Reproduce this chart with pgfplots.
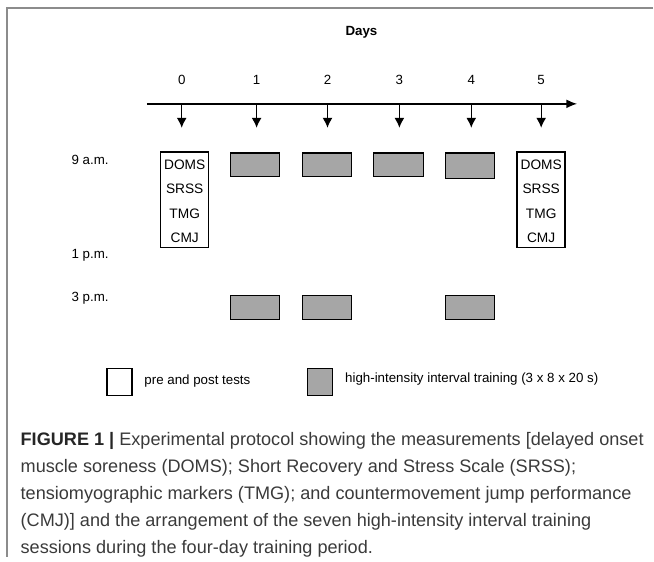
\documentclass[border=0pt]{standalone}
\usepackage{fontspec}
\setmainfont{Liberation Sans}
\usepackage{pgfplots}
\pgfplotsset{compat=1.18}
\usetikzlibrary{arrows.meta}
\definecolor{hiit}{HTML}{A6A6A6}
\definecolor{framegray}{HTML}{8C8C8C}
\definecolor{captext}{HTML}{3A3A3A}
\begin{document}
\begin{tikzpicture}
\begin{axis}[
  scale only axis, width=490.5pt, height=418.5pt,
  xmin=0, xmax=654, ymin=0, ymax=558, y dir=reverse,
  axis lines=none, ticks=none, clip=false,
]
% invisible extent
\addplot[draw=none] coordinates {(0,0) (654,558)};
% frame
\addplot[framegray, line width=1.5pt] coordinates {(654,8) (7,8) (7,558)};
% title
\node[font=\bfseries\fontsize{10}{12}\selectfont] at (axis cs:362,32) {Days};
% day numbers
\node[font=\fontsize{10}{12}\selectfont] at (axis cs:182,80) {0};
\node[font=\fontsize{10}{12}\selectfont] at (axis cs:257,80) {1};
\node[font=\fontsize{10}{12}\selectfont] at (axis cs:328,80) {2};
\node[font=\fontsize{10}{12}\selectfont] at (axis cs:400,80) {3};
\node[font=\fontsize{10}{12}\selectfont] at (axis cs:472,80) {4};
\node[font=\fontsize{10}{12}\selectfont] at (axis cs:542,80) {5};
% timeline
\addplot[black, line width=1pt, -{Latex[length=8pt,width=6.5pt]}] coordinates {(147,104) (578,104)};
% down arrows
\pgfplotsinvokeforeach{182,257,328,400,472,542}{
  \addplot[black, line width=1pt, -{Latex[length=7.5pt,width=7.5pt]}] coordinates {(#1,104) (#1,128)};
}
% time labels
\node[anchor=west, font=\fontsize{10}{12}\selectfont] at (axis cs:67,160) {9 a.m.};
\node[anchor=west, font=\fontsize{10}{12}\selectfont] at (axis cs:67,256) {1 p.m.};
\node[anchor=west, font=\fontsize{10}{12}\selectfont] at (axis cs:67,299) {3 p.m.};
% test boxes (day 0 and day 5)
\addplot[draw=black, fill=white, line width=1.1pt] coordinates {(161,152) (209,152) (209,248) (161,248)} -- cycle;
\addplot[draw=black, fill=white, line width=1.1pt] coordinates {(518,152) (566,152) (566,248) (518,248)} -- cycle;
\pgfplotsinvokeforeach{185,542}{
  \node[font=\fontsize{10.3}{12}\selectfont] at (axis cs:#1,165) {DOMS};
  \node[font=\fontsize{10.3}{12}\selectfont] at (axis cs:#1,189) {SRSS};
  \node[font=\fontsize{10.3}{12}\selectfont] at (axis cs:#1,214) {TMG};
  \node[font=\fontsize{10.3}{12}\selectfont] at (axis cs:#1,238) {CMJ};
}
% HIIT sessions 9 a.m. (days 1-4)
\addplot[draw=black, fill=hiit, line width=1.1pt] coordinates {(231,153) (280,153) (280,177) (231,177)} -- cycle;
\addplot[draw=black, fill=hiit, line width=1.1pt] coordinates {(303,153) (352,153) (352,177) (303,177)} -- cycle;
\addplot[draw=black, fill=hiit, line width=1.1pt] coordinates {(374,153) (424,153) (424,177) (374,177)} -- cycle;
\addplot[draw=black, fill=hiit, line width=1.1pt] coordinates {(446,153) (495,153) (495,179) (446,179)} -- cycle;
% HIIT sessions 3 p.m. (days 1, 2, 4)
\addplot[draw=black, fill=hiit, line width=1.1pt] coordinates {(231,296) (280,296) (280,320) (231,320)} -- cycle;
\addplot[draw=black, fill=hiit, line width=1.1pt] coordinates {(303,296) (352,296) (352,320) (303,320)} -- cycle;
\addplot[draw=black, fill=hiit, line width=1.1pt] coordinates {(446,296) (495,296) (495,320) (446,320)} -- cycle;
% legend
\addplot[draw=black, fill=white, line width=1.1pt] coordinates {(107,369) (132,369) (132,396) (107,396)} -- cycle;
\node[anchor=west, font=\fontsize{10}{12}\selectfont] at (axis cs:140,382) {pre and post tests};
\addplot[draw=black, fill=hiit, line width=1.1pt] coordinates {(308,369) (333,369) (333,396) (308,396)} -- cycle;
\node[anchor=west, font=\fontsize{10}{12}\selectfont] at (axis cs:341,380) {high-intensity interval training (3 x 8 x 20 s)};
% caption
\node[anchor=base west, text=captext, font=\fontsize{13.6}{16}\selectfont] at (axis cs:16,446) {{\color{black!85}\bfseries FIGURE 1 |} Experimental protocol showing the measurements [delayed onset};
\node[anchor=base west, text=captext, font=\fontsize{13.6}{16}\selectfont] at (axis cs:16,473) {muscle soreness (DOMS); Short Recovery and Stress Scale (SRSS);};
\node[anchor=base west, text=captext, font=\fontsize{13.6}{16}\selectfont] at (axis cs:16,500) {tensiomyographic markers (TMG); and countermovement jump performance};
\node[anchor=base west, text=captext, font=\fontsize{13.6}{16}\selectfont] at (axis cs:16,527) {(CMJ)] and the arrangement of the seven high-intensity interval training};
\node[anchor=base west, text=captext, font=\fontsize{13.6}{16}\selectfont] at (axis cs:16,554) {sessions during the four-day training period.};
\end{axis}
\end{tikzpicture}
\end{document}
